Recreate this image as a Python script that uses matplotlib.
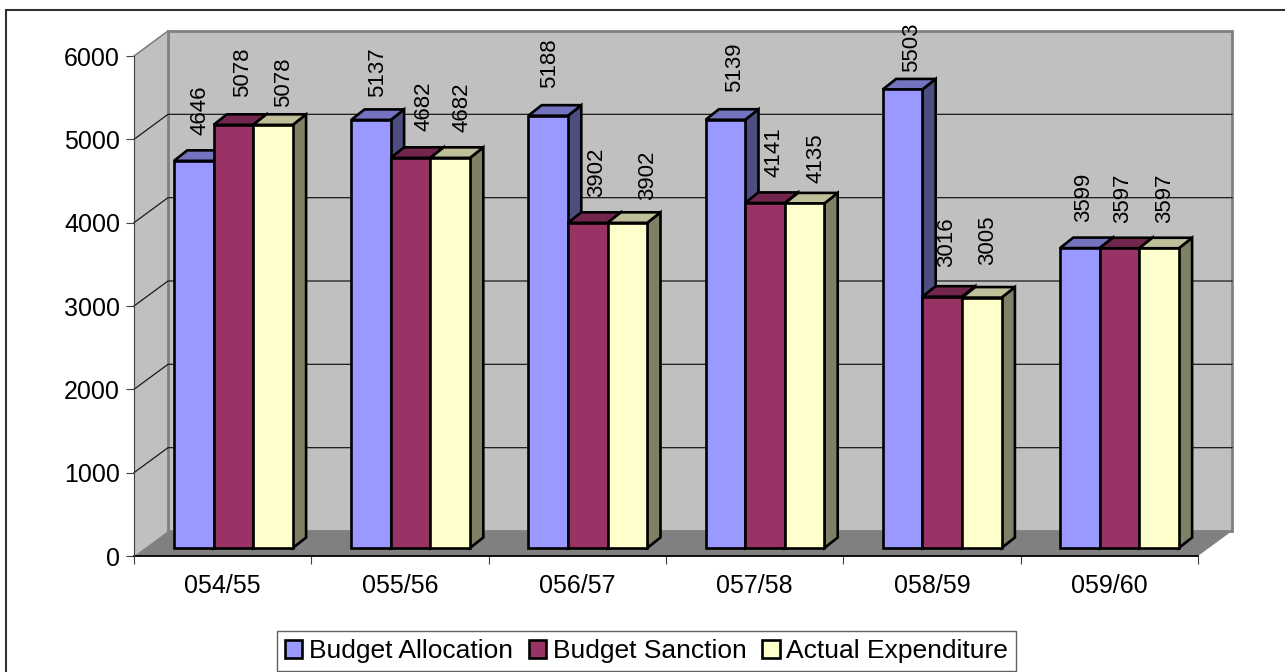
import matplotlib
matplotlib.use('Agg')
import matplotlib.pyplot as plt
from matplotlib.patches import Polygon, Patch, Rectangle

plt.rcParams['font.family'] = ['Liberation Sans', 'DejaVu Sans']

years = ['054/55', '055/56', '056/57', '057/58', '058/59', '059/60']
series_names = ['Budget Allocation', 'Budget Sanction', 'Actual Expenditure']
allocation = [4646, 5137, 5188, 5139, 5503, 3599]
sanction = [5078, 4682, 3902, 4141, 3016, 3597]
expenditure = [5078, 4682, 3902, 4135, 3005, 3597]

# hand placed label nudges, pixels from the top centre of each bar
nudge_x = [[6, 9, 11], [7, 13, 12], [1, 9, 20], [9, 9, 11], [9, 4, 6], [4, 3, 6]]
nudge_y = [[26, 28, 18], [23, 27, 26], [28, 26, 23], [28, 26, 20], [17, 30, 33], [26, 25, 25]]

# front, top and side colours for each series
front = ['#9999ff', '#993366', '#ffffcc']
top = ['#7373bf', '#73264d', '#bfbf99']
side = ['#4d4d80', '#4d1a33', '#808066']

W, H = 1285, 672
fig = plt.figure(figsize=(W / 100, H / 100), dpi=100)
ax = fig.add_axes([134 / W, 1 - 556 / H, 1064 / W, 500 / H])
ax.set_xlim(0, 6)
ax.set_ylim(0, 6000)

px_x = 6 / 1064
px_y = 12.0
depth_x = 34 * px_x
depth_y = 25 * px_y


def poly(pts, fc, ec='none', lw=0, z=1):
    p = Polygon(pts, closed=True, facecolor=fc, edgecolor=ec, linewidth=lw,
                joinstyle='miter', clip_on=False, zorder=z)
    ax.add_patch(p)


# walls and floor
poly([(0, 0), (depth_x, depth_y), (depth_x, 6000 + depth_y), (0, 6000)], '#c0c0c0', z=1)
poly([(depth_x, depth_y), (6 + depth_x, depth_y), (6 + depth_x, 6000 + depth_y),
      (depth_x, 6000 + depth_y)], '#c0c0c0', '#808080', 2.0, z=1)
poly([(0, 0), (depth_x, depth_y), (6 + depth_x, depth_y), (6, 0)], '#808080', z=1.5)

for v in range(1000, 6000, 1000):
    ax.plot([0, depth_x, 6 + depth_x], [v, v + depth_y, v + depth_y], color='#1a1a1a',
            lw=0.9, clip_on=False, zorder=2)
ax.plot([0, depth_x], [6000, 6000 + depth_y], color='#808080', lw=1.2, clip_on=False, zorder=2)

# 3d bars, drawn left to right so later fronts cover earlier sides
bar_w = 39.6 * px_x
start_x = 40 * px_x
base_y = 8 * px_y
bar_dx = 13.3 * px_x
bar_dy = 10.5 * px_y
step = 177.2 * px_x
z = 3
all_values = [allocation, sanction, expenditure]
for i in range(len(years)):
    for s, vals in enumerate(all_values):
        v = vals[i]
        x0 = start_x + i * step + s * bar_w
        x1 = x0 + bar_w
        y0 = base_y
        y1 = base_y + v
        edge = dict(ec='black', lw=1.9)
        poly([(x1, y0), (x1 + bar_dx, y0 + bar_dy), (x1 + bar_dx, y1 + bar_dy), (x1, y1)],
             side[s], z=z, **edge)
        poly([(x0, y1), (x0 + bar_dx, y1 + bar_dy), (x1 + bar_dx, y1 + bar_dy), (x1, y1)],
             top[s], z=z, **edge)
        poly([(x0, y0), (x1, y0), (x1, y1), (x0, y1)], front[s], z=z, **edge)
        z += 0.01
        ax.annotate(str(v), xy=((x0 + x1) / 2, y1), xytext=(nudge_x[i][s], nudge_y[i][s]),
                    textcoords='offset pixels', rotation=90, ha='center', va='bottom',
                    fontsize=16, color='black', zorder=10, annotation_clip=False)

# axes
for name in ['top', 'right']:
    ax.spines[name].set_visible(False)
ax.spines['left'].set_color('#404040')
ax.spines['left'].set_linewidth(0.8)
ax.spines['bottom'].set_linewidth(1.3)
ax.spines['bottom'].set_zorder(2)
ax.patch.set_alpha(0)
ax.set_xticks(range(7))
ax.set_xticklabels([])
for i, name in enumerate(years):
    ax.text(i + 0.5, -30 * px_y, name, ha='center', va='center', fontsize=18)
ax.set_yticks(range(0, 7000, 1000))
ax.tick_params(axis='both', length=6, width=0.8, color='#404040', labelsize=18, pad=4)

# legend
handles = [Patch(facecolor=c, edgecolor='black', linewidth=1.9) for c in front]
leg = fig.legend(handles, series_names, loc='lower left', bbox_to_anchor=(277 / W, 1 / H),
                 bbox_transform=fig.transFigure, ncol=3, fontsize=19, fancybox=False,
                 edgecolor='#606060', framealpha=1, handlelength=0.66, handleheight=0.7,
                 handletextpad=0.25, columnspacing=0.6, borderpad=0.3, borderaxespad=0)
leg.get_frame().set_linewidth(1.0)

# chart border, right and bottom edges fall outside the canvas
fig.add_artist(Rectangle((5.5 / W, 1 - 690 / H), 1300 / W, 680 / H, transform=fig.transFigure,
                         fill=False, edgecolor='#303030', linewidth=1.5))

fig.savefig('out.png', dpi=100)
